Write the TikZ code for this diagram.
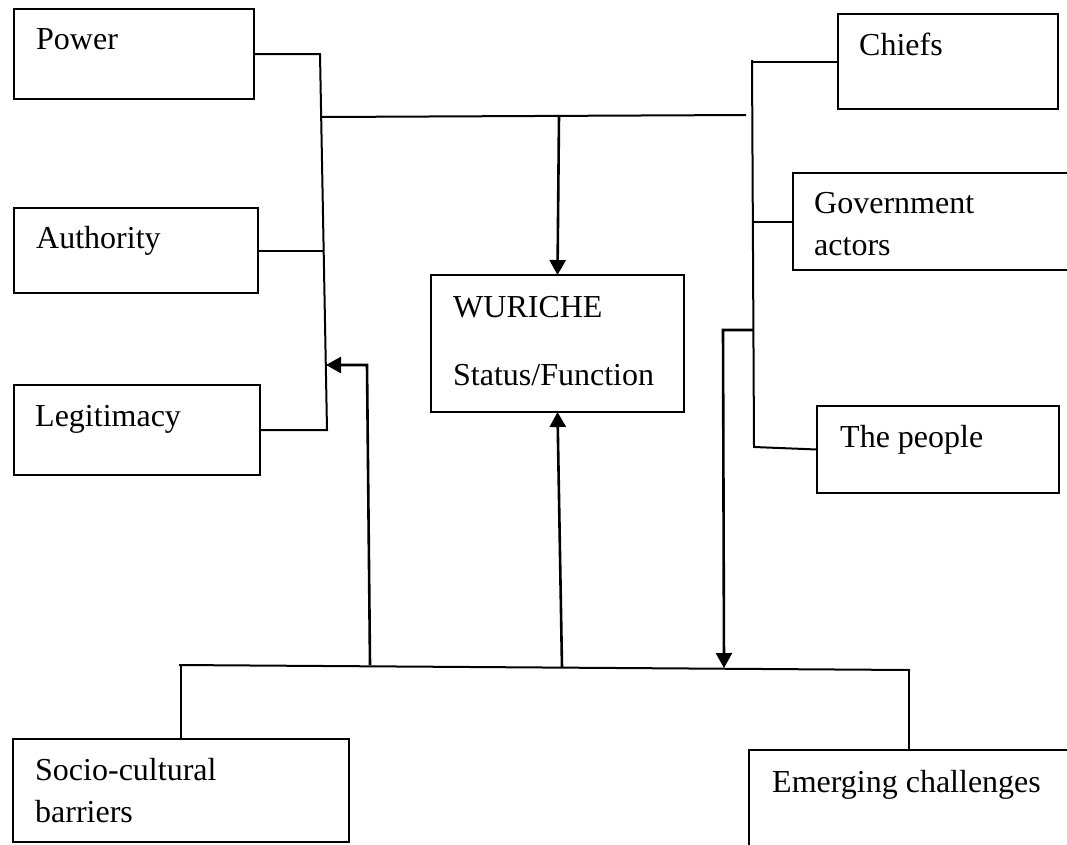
\documentclass[tikz,border=0pt]{standalone}
\usepackage{fontspec}
\setmainfont{Liberation Serif}
\usetikzlibrary{arrows.meta}
\begin{document}
\begin{tikzpicture}[x=1pt,y=-1pt,
  box/.style={draw, line width=2pt, anchor=north west, inner sep=0pt, outer sep=0pt},
  lbl/.style={anchor=base west, inner sep=0pt, font=\fontsize{32}{38}\selectfont},
  conn/.style={line width=2pt},
  arr/.style={line width=2.6pt, -{Triangle[length=15pt,width=16pt]}}]
\useasboundingbox (0,0) rectangle (1067,844);
\clip (0,0) rectangle (1067,844);
% boxes
\node[box, minimum width=240pt, minimum height=90pt] (power) at (14,9) {};
\node[box, minimum width=244pt, minimum height=85pt] (authority) at (14,208) {};
\node[box, minimum width=246pt, minimum height=90pt] (legit) at (14,385) {};
\node[box, minimum width=220pt, minimum height=95pt] (chiefs) at (838,14) {};
\node[box, minimum width=300pt, minimum height=97pt] (gov) at (793,173) {};
\node[box, minimum width=242pt, minimum height=87pt] (people) at (817,406) {};
\node[box, minimum width=253pt, minimum height=137pt] (wuriche) at (431,275) {};
\node[box, minimum width=336pt, minimum height=103pt] (socio) at (13,739) {};
\node[box, minimum width=330pt, minimum height=120pt] (emerging) at (749,750) {};
% labels
\node[lbl] (tpower) at (36,49) {Power};
\node[lbl] (tauth) at (36,248) {Authority};
\node[lbl] (tlegit) at (35,426) {Legitimacy};
\node[lbl] (tchiefs) at (859,55) {Chiefs};
\node[lbl] (tgov1) at (814,213) {Government};
\node[lbl] (tgov2) at (814,255) {actors};
\node[lbl] (tpeople) at (840,447) {The people};
\node[lbl] (twur1) at (453,317) {WURICHE};
\node[lbl] (twur2) at (453,385) {Status/Function};
\node[lbl] (tsocio1) at (35,780) {Socio-cultural};
\node[lbl] (tsocio2) at (35,822) {barriers};
\node[lbl] (temerg) at (772,792) {Emerging challenges};
% junction coordinates
\coordinate (lsTop) at (320,54);
\coordinate (lsAuth) at (323.5,250.5);
\coordinate (lsBot) at (327,430);
\coordinate (topL) at (322,117);
\coordinate (topR) at (746,115);
\coordinate (topMid) at (559,115);
\coordinate (retTip) at (326,365);
\coordinate (retCorner) at (367,365);
\coordinate (retFoot) at (370,665);
\coordinate (botL) at (179,665);
\coordinate (botR) at (910,670);
\coordinate (botSocio) at (181,665);
\coordinate (botEmerg) at (909,670);
\coordinate (botUp) at (562,668);
\coordinate (rsTop) at (752,60);
\coordinate (rsBot) at (754,447);
\coordinate (rsChiefs) at (752,61.5);
\coordinate (rsGov) at (753,221.5);
\coordinate (rsBranch) at (753,330);
\coordinate (brCorner) at (723,330);
\coordinate (brTip) at (724,668);
% left spine
\draw[conn] (power.east) -- (lsTop) -- (lsBot) -- (legit.east);
\draw[conn] (authority.east) -- (lsAuth);
\draw[conn] (topL) -- (topR);
\draw[arr] (topMid) -- (wuriche.north);
\draw[arr] (retFoot) -- (retCorner) -- (retTip);
% bottom bar
\draw[conn] (botL) -- (botR);
\draw[conn] (botSocio) -- (botSocio |- socio.north);
\draw[conn] (botEmerg) -- (botEmerg |- emerging.north);
\draw[arr] (botUp) -- (wuriche.south);
% right spine
\draw[conn] (rsTop) -- (rsBot) -- (people.west);
\draw[conn] (rsChiefs) -- (chiefs.west);
\draw[conn] (rsGov) -- (gov.west);
\draw[arr] (rsBranch) -- (brCorner) -- (brTip);
\end{tikzpicture}
\end{document}
